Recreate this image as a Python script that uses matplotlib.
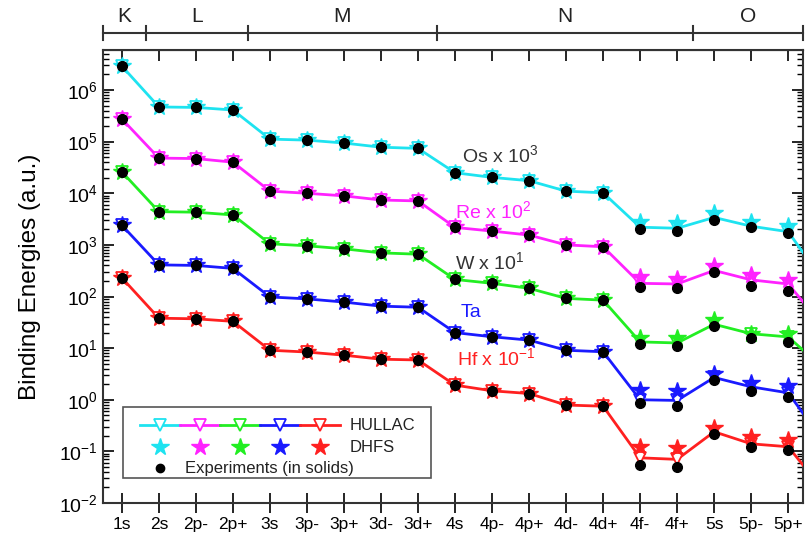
import numpy as np
import matplotlib.pyplot as plt
from matplotlib.patches import Rectangle
from matplotlib.lines import Line2D
from matplotlib.transforms import blended_transform_factory

plt.rcParams['font.family'] = ['Liberation Sans', 'DejaVu Sans']
plt.rcParams['mathtext.default'] = 'regular'

# subshells (last one lies just outside the visible range, only the line reaches it)
levels = ['1s', '2s', '2p-', '2p+', '3s', '3p-', '3p+', '3d-', '3d+',
          '4s', '4p-', '4p+', '4d-', '4d+', '4f-', '4f+', '5s', '5p-', '5p+', '5d-']
shells = ['K', 'L', 'M', 'N', 'O']
shell_edges = [-0.51, 0.65, 3.4, 8.5, 15.43, 18.4]

# experiments (in solids), scaled
exp_os = [2.9e6, 4.7e5, 4.6e5, 4.1e5, 1.12e5, 1.07e5, 9.4e4, 7.8e4, 7.4e4,
          2.5e4, 2.03e4, 1.75e4, 1.10e4, 1.02e4, 2.0e3, 1.85e3, 3.1e3, 2.18e3, 1.67e3]
exp_re = [2.75e5, 4.8e4, 4.7e4, 4.0e4, 1.1e4, 1.0e4, 8.9e3, 7.4e3, 7.1e3,
          2.18e3, 1.85e3, 1.55e3, 1.0e3, 9.2e2, 154, 144, 300, 160, 127]
exp_w = [2.6e4, 4.4e3, 4.3e3, 3.8e3, 1.05e3, 960, 840, 700, 660,
         214, 180, 144, 92, 85, 12, 11, 26.7, 16, 13.2]
exp_ta = [2.4e3, 410, 400, 350, 98, 90, 78, 65, 62,
          20, 16.6, 14.3, 9.1, 8.5, 0.85, 0.75, 2.4, 1.48, 1.14]
exp_hf = [230, 38, 37, 33, 9.1, 8.4, 7.3, 6.1, 5.9,
          1.92, 1.49, 1.32, 0.79, 0.75, 0.054, 0.049, 0.215, 0.123, 0.105]

# DHFS
dhfs_os = [2.9e6, 4.7e5, 4.6e5, 4.1e5, 1.12e5, 1.07e5, 9.4e4, 7.8e4, 7.4e4,
           2.5e4, 2.03e4, 1.75e4, 1.10e4, 1.02e4, 2.8e3, 2.7e3, 4.1e3, 2.8e3, 2.3e3]
dhfs_re = [2.75e5, 4.8e4, 4.7e4, 4.0e4, 1.1e4, 1.0e4, 8.9e3, 7.4e3, 7.1e3,
           2.18e3, 1.85e3, 1.55e3, 1.0e3, 9.2e2, 240, 220, 390, 260, 210]
dhfs_w = [2.6e4, 4.4e3, 4.3e3, 3.8e3, 1.05e3, 960, 840, 700, 660,
          214, 180, 144, 92, 85, 15.4, 15.4, 35, 19, 18.5]
dhfs_ta = [2.4e3, 410, 400, 350, 98, 90, 78, 65, 62,
           20, 16.6, 14.3, 9.1, 8.5, 1.53, 1.48, 3.2, 2.1, 1.84]
dhfs_hf = [230, 38, 37, 33, 9.1, 8.4, 7.3, 6.1, 5.9,
           1.92, 1.49, 1.32, 0.79, 0.75, 0.119, 0.114, 0.278, 0.19, 0.166]

# HULLAC
hul_os = [2.9e6, 4.7e5, 4.6e5, 4.1e5, 1.12e5, 1.07e5, 9.4e4, 7.8e4, 7.4e4,
          2.5e4, 2.03e4, 1.75e4, 1.10e4, 1.02e4, 2.2e3, 2.1e3, 3.4e3, 2.3e3, 1.8e3, 178]
hul_re = [2.75e5, 4.8e4, 4.7e4, 4.0e4, 1.1e4, 1.0e4, 8.9e3, 7.4e3, 7.1e3,
          2.18e3, 1.85e3, 1.55e3, 1.0e3, 9.2e2, 180, 175, 320, 210, 175, 24]
hul_w = [2.6e4, 4.4e3, 4.3e3, 3.8e3, 1.05e3, 960, 840, 700, 660,
         214, 180, 144, 92, 85, 13.2, 12.6, 29, 19, 16.5, 3.8]
hul_ta = [2.4e3, 410, 400, 350, 98, 90, 78, 65, 62,
          20, 16.6, 14.3, 9.1, 8.5, 1.0, 0.97, 2.7, 1.78, 1.36, 0.14]
hul_hf = [230, 38, 37, 33, 9.1, 8.4, 7.3, 6.1, 5.9,
          1.92, 1.49, 1.32, 0.79, 0.75, 0.075, 0.07, 0.24, 0.14, 0.123, 0.016]

colors = ['#1EE3F0', '#FF22FF', '#22EE22', '#1A1AFF', '#FF2020']
names = ['Os x 10$^3$', 'Re x 10$^2$', 'W x 10$^1$', 'Ta', 'Hf x 10$^{-1}$']
name_colors = ['#333333', '#FF22FF', '#333333', '#1A1AFF', '#FF2020']
name_pos = [(9.2, 5.5e4), (9.0, 4.5e3), (9.0, 465), (9.15, 50), (9.05, 6.4)]

hullac = [hul_os, hul_re, hul_w, hul_ta, hul_hf]
dhfs = [dhfs_os, dhfs_re, dhfs_w, dhfs_ta, dhfs_hf]
expt = [exp_os, exp_re, exp_w, exp_ta, exp_hf]

fig = plt.figure(figsize=(8.05, 5.44), dpi=100)
ax = fig.add_axes([103 / 805, 41 / 544, 700 / 805, 453 / 544])

x = np.arange(len(levels))
for h, d, e, c in zip(hullac, dhfs, expt, colors):
    ax.plot(x[:len(h)], h, '-v', color=c, lw=2, markersize=8,
            markerfacecolor='white', markeredgecolor=c, markeredgewidth=1.3, zorder=3)
    ax.plot(x[:len(d)], d, '*', color=c, markersize=13, zorder=4)
    ax.plot(x[:len(e)], e, 'o', color='black', markersize=7, zorder=5)

for n, c, (px, py) in zip(names, name_colors, name_pos):
    ax.text(px, py, n, color=c, fontsize=14, ha='left', va='center')

ax.set_yscale('log')
ax.set_xticks(x)
ax.set_xticklabels(levels, fontsize=12.5)
ax.set_yticks([10.0 ** k for k in range(-2, 7)])
ax.tick_params(axis='y', which='both', direction='in', right=True, labelsize=14)
ax.tick_params(axis='y', which='major', length=8, width=1.2)
ax.tick_params(axis='y', which='minor', length=4, width=1)
ax.tick_params(axis='x', direction='inout', length=14, width=1.2, pad=3, top=False)
ax.set_ylabel('Binding Energies (a.u.)', fontsize=17.5, labelpad=13)
for s in ax.spines.values():
    s.set_linewidth(1.5)
    s.set_color('#333333')

top = ax.secondary_xaxis('top')
top.set_xticks(x)
top.set_xticklabels([])
top.tick_params(direction='in', length=8, width=1.2)

# limits last, set_xticks would widen them
ax.set_xlim(-0.51, 18.4)
ax.set_ylim(1e-2, 5.96e6)

# shell bar above the plot
tr = blended_transform_factory(ax.transData, fig.transFigure)
bar_y = 1 - 33 / 544
fig.add_artist(Line2D([shell_edges[0], shell_edges[-1]], [bar_y, bar_y],
                      transform=tr, color='#333333', lw=1.5))
for e in shell_edges:
    fig.add_artist(Line2D([e, e], [bar_y - 7 / 544, bar_y + 7 / 544],
                          transform=tr, color='#333333', lw=1.5))
for s, a, b in zip(shells, shell_edges[:-1], shell_edges[1:]):
    fig.text((a + b) / 2, 1 - 17 / 544, s, transform=tr, ha='center', va='center',
             fontsize=15, color='#222222')

# custom legend box
def axc(px, py):
    return (px - 103) / 700, (503 - py) / 453

x0, y0 = axc(123, 478)
x1, y1 = axc(431, 407)
ax.add_patch(Rectangle((x0, y0), x1 - x0, y1 - y0, transform=ax.transAxes,
                       facecolor='white', edgecolor='#555555', lw=1.2, zorder=6))
centers = [160, 200, 240, 280, 320]
for cx, c in zip(centers, colors):
    lx0, ly = axc(cx - 20, 425)
    lx1, _ = axc(cx + 20, 425)
    mx, _ = axc(cx, 425)
    ax.plot([lx0, lx1], [ly, ly], color=c, lw=2, transform=ax.transAxes, zorder=7)
    ax.plot([mx], [ly], 'v', color=c, markersize=9, markerfacecolor='white',
            markeredgewidth=1.3, transform=ax.transAxes, zorder=8)
    _, sy = axc(cx, 447)
    ax.plot([mx], [sy], '*', color=c, markersize=13, transform=ax.transAxes, zorder=8)
dx, dy = axc(160, 468)
ax.plot([dx], [dy], 'o', color='black', markersize=6, transform=ax.transAxes, zorder=8)
tx, ty = axc(350, 425)
ax.text(tx, ty, 'HULLAC', transform=ax.transAxes, fontsize=12, va='center', zorder=8, color='#222222')
tx, ty = axc(350, 447)
ax.text(tx, ty, 'DHFS', transform=ax.transAxes, fontsize=12, va='center', zorder=8, color='#222222')
tx, ty = axc(185, 468)
ax.text(tx, ty, 'Experiments (in solids)', transform=ax.transAxes, fontsize=12,
        va='center', zorder=8, color='#222222')

fig.savefig('out.png', dpi=100)
